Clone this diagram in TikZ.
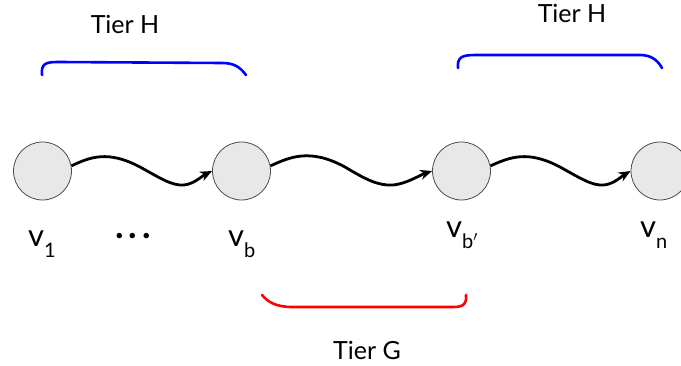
\documentclass[tikz,border=0pt]{standalone}
\usepackage{fontspec}
\setmainfont{Lato}
\usetikzlibrary{arrows.meta}
\tikzset{
  vert/.style={circle, draw=black!70, line width=0.8pt, fill=black!9, minimum size=58pt, inner sep=0pt},
  edge/.style={line width=2.8pt, -{Stealth[length=12pt,width=10pt]}},
  brace/.style={line width=2.6pt, line cap=round},
  tier/.style={font=\fontsize{25}{28}\selectfont, inner sep=0pt},
  vlab/.style={font=\fontsize{31}{34}\selectfont, inner sep=0pt, anchor=base west}
}
\newcommand{\vsub}[1]{v\raisebox{-11pt}{\fontsize{20}{22}\selectfont #1}}
\begin{document}
\begin{tikzpicture}[x=1pt,y=-1pt]
\clip (0,0) rectangle (681,366);
\fill[white] (0,0) rectangle (681,366);
% vertices
\node[vert] (v1) at (42.5,171) {};
\node[vert] (vb) at (241.5,171) {};
\node[vert] (vbp) at (461.5,171) {};
\node[vert] (vn) at (660,171) {};
% edges
\draw[edge] (v1.10) .. controls (90,157) and (108,150) .. (140,167)
  .. controls (160,178) and (172,186) .. (184,185)
  .. controls (194,184) and (202,176) .. (vb.180);
\draw[edge] (vb.10) .. controls (290,157) and (310,148) .. (345,167)
  .. controls (365,179) and (378,186) .. (393,185)
  .. controls (406,184) and (420,175) .. (vbp.180);
\draw[edge] (vbp.10) .. controls (510,157) and (528,150) .. (560,167)
  .. controls (580,178) and (592,186) .. (604,185)
  .. controls (614,184) and (622,176) .. (vn.180);
% labels
\node[vlab] (l1) at (28,247) {\vsub{1}};
\node[vlab] (lb) at (228,247) {\vsub{b}};
\node[vlab] (lbp) at (446,238) {\vsub{b$'$}};
\node[vlab] (ln) at (640,238) {\vsub{n}};
\node[font=\fontsize{36}{38}\selectfont\bfseries, inner sep=0pt, anchor=base] (dots) at (133,239) {.\hspace{5pt}.\hspace{5pt}.};
% braces
\draw[brace, blue] (42,75) .. controls (41,64) and (45,62) .. (58,62) -- (222,63)
  .. controls (234,63) and (240,67) .. (246,75);
\draw[brace, blue] (458,68) .. controls (457,57) and (462,55) .. (476,55) -- (640,55)
  .. controls (652,55) and (658,61) .. (662,68);
\draw[brace, red] (262,295) .. controls (268,302) and (276,307) .. (292,307) -- (454,307)
  .. controls (465,307) and (467,302) .. (466,295);
% tier labels
\node[tier] (th1) at (125,24) {Tier H};
\node[tier] (th2) at (572,13) {Tier H};
\node[tier] (tg) at (367,350) {Tier G};
\end{tikzpicture}
\end{document}
